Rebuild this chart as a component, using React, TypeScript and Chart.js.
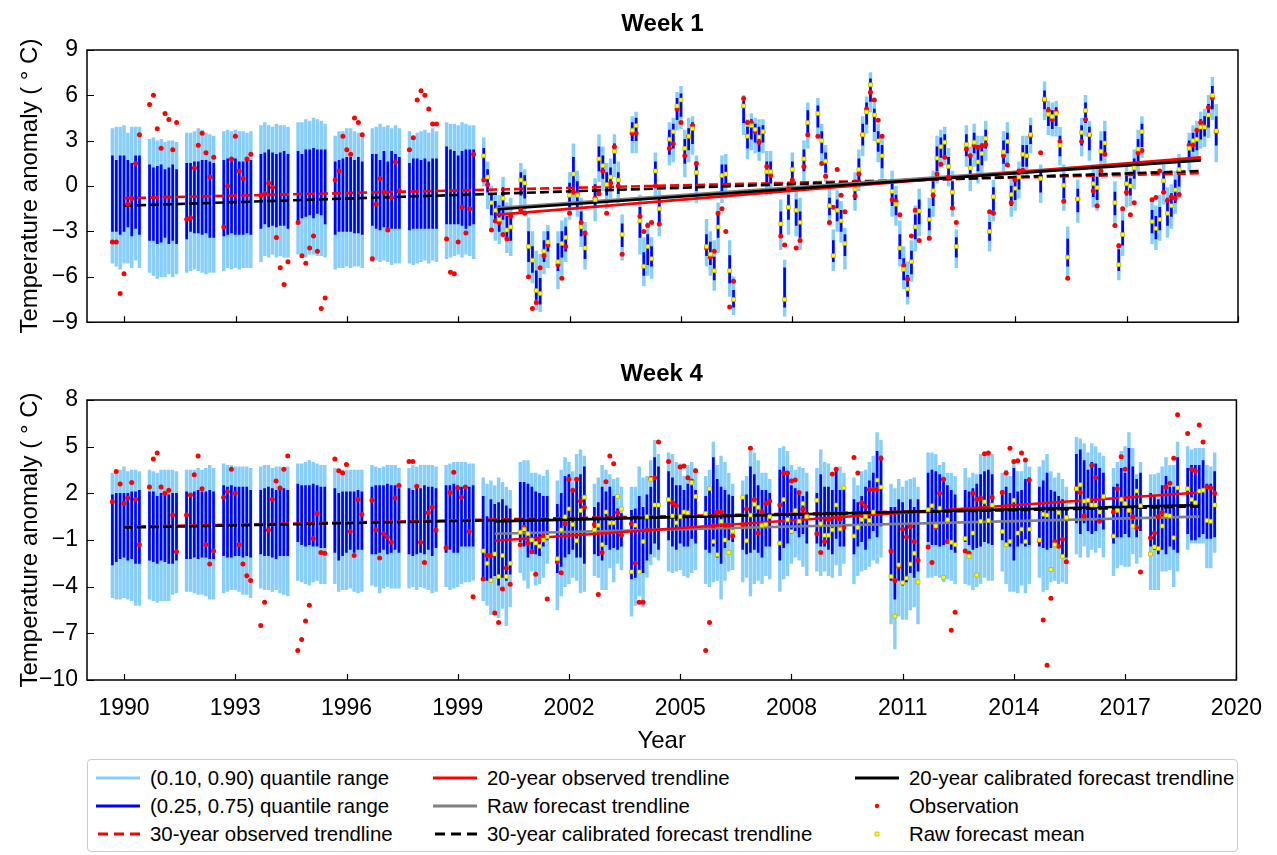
import React, { useEffect, useRef } from "react";
import { Chart, registerables } from "chart.js";

Chart.register(...registerables);

const FONT = "'Liberation Sans', Arial, Helvetica, sans-serif";

// ---------- shared axis data ----------
const clusterYears = [1990, 1991, 1992, 1993, 1994, 1995, 1996, 1997, 1998, 1999, 2000, 2001, 2002, 2003, 2004, 2005, 2006, 2007, 2008, 2009, 2010, 2011, 2012, 2013, 2014, 2015, 2016, 2017, 2018, 2019];
const slotOffsets = [-0.315, -0.211, -0.107, -0.003, 0.101, 0.205, 0.309, 0.413];
const meanStartYear = 2000;
const xTickYears = [1990, 1993, 1996, 1999, 2002, 2005, 2008, 2011, 2014, 2017, 2020];
const w1YTicks = [-9, -6, -3, 0, 3, 6, 9];
const w4YTicks = [-10, -7, -4, -1, 2, 5, 8];
const trend30Years = [1990, 2019];
const trend20Years = [2000, 2019];

// ---------- Week 1 ----------
const w1Q90 = [
  [3.8, 3.9, 3.9, 4.0, 3.5, 3.9, 3.9, 3.9], [3.1, 3.2, 3.0, 3.1, 2.9, 3.0, 3.0, 2.9], [3.5, 3.5, 3.6, 3.8, 3.7, 3.5, 3.4, 3.3],
  [3.6, 3.7, 3.6, 3.7, 3.6, 3.6, 3.5, 3.6], [4.0, 4.2, 4.0, 3.9, 4.1, 4.0, 4.0, 3.9], [4.2, 4.2, 4.4, 4.3, 4.5, 4.4, 4.3, 4.1],
  [3.3, 3.6, 3.6, 3.8, 3.8, 3.6, 3.5, 3.5], [3.8, 3.9, 4.1, 3.9, 4.0, 3.8, 4.0, 3.8], [3.6, 3.3, 3.5, 3.6, 3.7, 3.5, 3.8, 3.6],
  [4.2, 4.1, 4.1, 4.0, 4.2, 4.1, 4.0, 4.0], [3.2, 1.6, 0.0, -0.4, -0.6, 0.6, -1.1, -0.8], [1.5, 1.1, -2.1, -3.0, -4.3, -4.5, -3.0, -2.6],
  [-3.0, -2.3, -2.1, 0.9, 2.8, 1.0, -0.8, -2.4], [0.5, 3.4, 2.6, 1.5, 1.8, 3.4, 1.6, -1.9], [4.6, 4.9, -0.6, -3.4, -2.4, -3.4, 2.2, -0.3],
  [4.2, 4.5, 6.2, 6.6, 3.7, 4.5, 4.6, 2.0], [-2.2, -3.0, -3.6, -1.1, 2.0, 2.1, -3.6, -6.0], [6.0, 4.4, 4.8, 4.5, 4.4, 4.4, 2.3, 2.3],
  [-0.9, -4.9, 0.2, 2.2, -0.3, -0.8, 3.0, 5.5], [5.8, 4.1, 2.7, -0.2, -2.9, -0.3, -1.0, -2.8], [0.9, 2.4, 4.6, 5.9, 7.5, 5.5, 4.1, 3.3],
  [1.0, 0.0, -2.3, -4.0, -5.0, -3.6, -1.3, -0.2], [-0.8, 1.0, 3.3, 3.7, 3.9, 2.5, 1.0, -2.9], [4.0, 2.6, 4.1, 3.3, 3.3, 4.3, -1.7, 0.4],
  [3.6, 4.2, 0.5, 1.0, 1.6, 3.3, 3.3, 4.5], [1.4, 6.9, 5.6, 5.5, 5.6, 3.9, 1.4, -2.7], [0.4, 4.5, 6.0, 4.3, 1.4, 1.2, 3.6, 4.3],
  [0.3, -3.8, -1.6, 1.3, 1.0, 2.4, 3.7, 4.6], [-0.9, -1.3, -0.6, 1.4, -0.1, 0.1, 1.0, 2.1], [3.5, 4.0, 4.3, 4.9, 5.1, 6.0, 7.2, 5.4],
];
const w1Q75 = [
  [2.0, 1.7, 2.0, 2.0, 1.7, 1.5, 2.0, 2.0], [1.4, 1.2, 1.3, 1.4, 1.1, 1.2, 1.4, 1.1], [1.5, 1.5, 1.6, 1.6, 1.7, 1.7, 1.6, 1.5],
  [1.7, 1.8, 1.7, 1.8, 1.6, 1.6, 1.8, 1.7], [2.1, 2.2, 2.4, 2.2, 2.1, 2.2, 2.3, 2.1], [2.3, 2.1, 2.4, 2.4, 2.5, 2.4, 2.4, 2.4],
  [1.6, 1.7, 1.8, 1.9, 1.9, 1.7, 1.9, 1.6], [2.1, 2.1, 1.7, 2.3, 1.6, 2.3, 2.1, 1.9], [1.5, 1.8, 1.8, 1.7, 1.8, 1.6, 1.8, 1.8],
  [2.6, 2.4, 2.3, 2.0, 2.3, 2.4, 2.4, 2.4], [2.5, 1.1, -0.5, -1.0, -1.3, -0.1, -2.0, -1.8], [0.9, 0.7, -3.0, -4.0, -5.6, -6.1, -3.6, -3.0],
  [-3.8, -3.0, -2.7, 0.2, 1.9, 0.3, -1.7, -3.2], [0.1, 2.6, 2.0, 0.9, 1.2, 2.8, 0.9, -2.5], [4.2, 4.5, -1.4, -4.4, -3.2, -4.0, 1.6, -0.8],
  [3.7, 4.1, 5.8, 6.1, 3.1, 3.8, 4.2, 1.5], [-3.2, -3.7, -4.7, -1.9, 1.4, 1.4, -4.6, -6.9], [5.6, 3.9, 4.4, 4.1, 3.9, 4.0, 1.6, 1.6],
  [-1.7, -5.4, -0.6, 1.6, -0.9, -1.7, 2.4, 5.0], [5.3, 3.6, 2.2, -0.8, -3.6, -0.9, -1.6, -3.2], [0.4, 1.8, 4.1, 5.5, 7.1, 5.1, 3.6, 2.7],
  [0.3, -0.6, -3.2, -4.8, -5.9, -4.3, -1.9, -0.9], [-1.5, 0.3, 2.6, 3.2, 3.4, 1.9, 0.3, -3.4], [3.4, 2.0, 3.5, 2.7, 2.8, 3.7, -2.4, -0.1],
  [3.0, 3.5, 0.0, 0.4, 1.1, 2.7, 2.7, 4.0], [1.0, 6.3, 5.2, 5.0, 5.2, 3.3, 0.8, -3.5], [-0.2, 4.0, 5.5, 3.9, 0.8, 0.6, 3.0, 3.6],
  [-0.4, -4.2, -2.3, 0.7, 0.5, 1.8, 3.1, 4.1], [-1.6, -2.0, -1.4, 0.9, -0.8, -0.5, 0.4, 1.6], [3.0, 3.5, 3.7, 4.4, 4.6, 5.4, 6.6, 4.6],
];
const w1Q25 = [
  [-3.0, -3.0, -3.2, -3.0, -2.7, -3.3, -2.8, -3.2], [-3.6, -3.6, -3.8, -3.7, -3.4, -3.8, -3.6, -3.8], [-3.5, -3.0, -3.1, -3.1, -3.2, -3.1, -3.4, -3.4],
  [-3.3, -3.2, -3.1, -3.2, -3.2, -3.2, -3.1, -3.2], [-2.8, -2.5, -2.7, -2.6, -2.7, -2.6, -2.6, -2.8], [-2.3, -2.1, -2.0, -1.9, -2.1, -1.8, -1.9, -2.5],
  [-3.2, -3.0, -3.0, -3.0, -3.0, -3.1, -3.1, -3.2], [-2.6, -2.8, -2.9, -2.7, -2.8, -2.8, -2.8, -2.8], [-2.9, -2.8, -2.8, -2.8, -2.8, -2.8, -2.8, -2.8],
  [-2.5, -2.5, -2.5, -2.5, -2.6, -2.8, -2.6, -2.5], [0.5, -0.4, -1.9, -2.4, -3.0, -2.2, -3.5, -3.6], [-0.6, -0.8, -5.0, -5.7, -7.5, -7.8, -5.0, -4.3],
  [-5.6, -4.7, -4.3, -1.4, -0.3, -1.4, -3.3, -4.8], [-1.4, 1.0, 0.5, -0.6, -0.2, 1.5, -0.5, -4.0], [3.0, 3.0, -3.4, -5.9, -5.2, -5.3, -0.1, -2.5],
  [2.1, 2.5, 4.4, 4.6, 1.5, 2.4, 2.8, -0.3], [-4.6, -5.2, -6.2, -3.4, -0.3, 0.0, -6.4, -8.0], [4.2, 2.5, 3.1, 2.9, 2.3, 2.9, 0.1, 0.2],
  [-3.4, -8.0, -2.2, 0.4, -2.6, -3.4, 1.0, 3.3], [3.9, 2.2, 0.9, -1.9, -5.0, -2.3, -3.0, -4.6], [-0.9, 0.4, 2.7, 4.1, 5.6, 3.6, 2.3, 1.2],
  [-1.3, -1.9, -4.8, -6.2, -7.3, -5.8, -3.5, -2.5], [-2.9, -1.3, 1.0, 1.9, 2.0, 0.6, -1.3, -4.7], [2.0, 0.5, 2.2, 1.0, 1.4, 2.5, -3.6, -1.6],
  [1.5, 2.2, -1.3, -0.9, -0.2, 1.3, 1.3, 2.8], [-0.4, 5.1, 4.0, 3.8, 4.0, 2.0, -0.8, -5.3], [-1.7, 2.7, 4.2, 2.4, -0.7, -0.9, 1.7, 2.1],
  [-1.9, -5.6, -3.9, -0.6, -0.6, 0.5, 1.5, 2.6], [-3.1, -3.5, -2.9, -0.5, -2.6, -2.0, -1.1, 0.0], [1.7, 2.3, 2.4, 3.1, 3.3, 3.9, 5.1, 2.7],
];
const w1Q10 = [
  [-5.1, -5.3, -5.5, -5.1, -5.1, -5.4, -4.9, -5.4], [-5.7, -5.9, -6.1, -6.0, -6.0, -5.8, -6.0, -5.8], [-5.7, -5.6, -5.5, -5.6, -5.7, -5.8, -5.7, -5.7],
  [-5.6, -5.4, -5.5, -5.4, -5.5, -5.4, -5.4, -5.4], [-5.0, -4.6, -4.7, -4.5, -4.7, -4.6, -4.7, -4.7], [-4.5, -4.6, -4.7, -4.5, -4.5, -4.6, -4.6, -4.7],
  [-5.5, -5.4, -5.4, -5.3, -5.4, -5.3, -5.3, -5.4], [-5.0, -4.9, -5.0, -4.9, -5.0, -5.2, -5.1, -5.1], [-5.1, -5.2, -5.1, -5.0, -4.9, -5.1, -4.9, -5.0],
  [-4.8, -4.7, -4.6, -4.5, -4.7, -4.5, -4.6, -4.8], [0.0, -1.5, -2.9, -3.6, -3.8, -3.4, -4.4, -4.6], [-1.7, -1.8, -5.8, -6.4, -8.2, -8.3, -5.8, -5.4],
  [-6.8, -5.9, -5.0, -2.2, -1.0, -2.0, -4.0, -5.5], [-2.3, 0.3, -0.3, -1.5, -0.8, 0.6, -1.1, -4.9], [2.2, 2.2, -4.5, -6.6, -5.9, -6.1, -0.9, -3.3],
  [1.4, 1.6, 3.7, 3.8, 0.6, 1.6, 2.1, -1.1], [-5.3, -5.9, -6.9, -4.4, -1.1, -0.8, -7.3, -8.5], [3.4, 1.8, 2.4, 2.2, 1.7, 2.2, -0.6, -0.6],
  [-4.2, -8.6, -3.2, -0.3, -3.3, -4.2, 0.2, 2.5], [3.2, 1.6, 0.3, -2.6, -5.6, -3.0, -3.7, -5.5], [-1.6, -0.3, 2.0, 3.5, 4.9, 3.0, 1.6, 0.5],
  [-2.0, -2.6, -5.3, -6.8, -7.8, -6.3, -4.3, -3.3], [-3.6, -2.0, 0.2, 1.2, 1.4, 0.0, -2.0, -5.4], [1.3, -0.3, 1.3, 0.2, 0.7, 1.7, -4.3, -2.3],
  [0.8, 1.5, -2.0, -1.6, -0.8, 0.5, 0.6, 2.2], [-1.1, 4.4, 3.4, 3.3, 3.3, 1.4, -1.6, -6.0], [-2.4, 2.0, 3.3, 1.7, -1.4, -1.6, 1.0, 1.3],
  [-2.6, -6.2, -4.6, -1.4, -1.3, -0.2, 0.8, 1.9], [-3.8, -4.2, -3.6, -1.2, -3.4, -2.8, -1.8, -0.8], [1.0, 1.6, 1.7, 2.5, 2.6, 3.2, 4.4, 1.6],
];
const w1Obs = [
  [-3.7, -3.7, -7.1, -5.8, -1.2, -0.8, 1.5, 3.4], [5.4, 6.0, 3.8, 2.5, 4.8, 4.4, 2.4, 4.2], [-2.2, -2.1, 1.2, 2.7, 3.5, 2.2, 0.6, 1.9],
  [-2.7, 0.0, 1.8, 3.3, 1.0, 0.5, 1.8, 2.1], [-0.6, -0.5, 0.2, -0.1, -3.4, -5.4, -6.5, -5.0], [-2.4, -4.6, -5.1, -4.1, -3.3, -4.3, -8.1, -7.4],
  [0.4, 1.0, 3.3, 2.4, 2.1, 4.5, 4.2, 3.4], [-4.8, -1.2, 0.5, -0.4, -2.9, -0.75, 1.6, -0.3], [2.4, 3.2, 5.7, 6.3, 6.0, 5.1, 4.1, 4.1],
  [-3.5, -5.7, -5.8, -3.7, -1.4, -3.1, -1.5, 2.1], [0.4, 0.1, -2.9, -2.3, -2.4, -3.2, -3.5, -2.0], [-1.6, -1.8, -6.0, -8.1, -7.7, -5.4, -4.6, -3.9],
  [-5.2, -6.1, -4.0, -1.8, -0.4, -0.5, -2.4, -3.1], [-0.8, -0.5, 1.0, -1.8, 0.2, 2.6, 0.0, -4.5], [3.5, 3.5, -2.0, -3.0, -2.6, -2.4, 0.0, -2.5],
  [2.5, 2.8, 5.1, 4.2, 2.0, 3.3, 4.0, 1.5], [-4.1, -4.7, -4.3, -1.8, -1.5, -3.0, -8.0, -6.3], [5.8, 4.2, 4.2, 3.6, 2.9, 3.6, 1.3, 0.7],
  [-3.3, -3.9, -0.2, 0.4, -4.1, -3.6, 1.3, 3.4], [3.3, 1.5, 0.65, -2.4, -1.4, 1.1, -0.6, -1.7], [-0.65, 0.8, 3.4, 5.1, 6.2, 5.7, 4.35, 3.3],
  [-0.9, -1.0, -1.9, -5.25, -6.15, -3.3, -1.6, -3.6], [-3.45, -0.6, 0.8, 1.45, 1.9, 0.6, -1.45, -2.4], [2.45, 2.0, 2.7, 2.55, 2.65, 2.75, -1.7, -1.8],
  [2.0, 1.4, -1.1, 0.4, 1.0, 1.05, 2.0, 3.35], [2.2, 5.7, 5.0, 4.4, 4.9, 2.95, -1.0, -6.1], [-0.85, 2.95, 4.4, 3.4, -0.3, -1.3, 1.0, 2.1],
  [-2.6, -3.95, -1.5, -0.4, -1.9, -1.1, 2.2, 2.35], [-0.9, -0.75, 1.0, -0.4, -0.95, -0.7, -0.8, -0.55], [2.7, 2.7, 3.7, 4.2, 3.9, 5.2, 5.85, 3.6],
];
const w1Mean = [
  [2.0, 0.6, -1.1, -1.6, -2.2, -0.8, -2.9, -2.7], [0.4, 0.2, -4.0, -4.9, -6.9, -7.1, -4.3, -3.7], [-5.0, -3.8, -3.4, -0.6, 0.8, -0.6, -2.7, -4.1],
  [-0.9, 1.8, 1.35, 0.1, 0.6, 2.3, 0.4, -3.2], [3.7, 4.0, -2.3, -5.3, -4.0, -4.8, 1.0, -1.5], [3.1, 3.6, 5.3, 5.7, 2.5, 3.3, 3.8, 0.9],
  [-4.0, -4.5, -5.6, -2.7, 0.7, 0.8, -5.6, -7.5], [5.3, 3.3, 4.0, 3.75, 3.25, 3.6, 0.95, 0.95], [-2.5, -7.5, -1.4, 1.1, -1.6, -2.4, 1.8, 4.2],
  [4.8, 3.0, 1.65, -1.3, -4.6, -1.6, -2.3, -3.8], [-0.2, 1.1, 3.4, 4.9, 6.7, 4.7, 3.0, 2.0], [-0.35, -1.2, -4.1, -5.5, -6.8, -5.0, -2.7, -1.65],
  [-2.2, -0.3, 1.85, 2.6, 2.9, 1.3, -0.4, -4.0], [2.75, 1.2, 2.9, 1.6, 2.15, 3.15, -3.0, -0.7], [2.25, 2.95, -0.55, -0.15, 0.6, 2.1, 2.0, 3.4],
  [0.5, 5.75, 4.75, 4.6, 4.8, 2.7, 0.05, -4.7], [-0.85, 3.55, 5.0, 3.4, 0.15, -0.1, 2.3, 2.85], [-1.1, -5.2, -3.2, 0.15, 0.0, 1.2, 2.45, 3.6],
  [-2.35, -2.8, -2.2, 0.35, -1.8, -1.3, -0.25, 1.1], [2.5, 3.0, 3.1, 3.9, 3.9, 4.7, 6.0, 3.65],
];
const w1Obs30 = [-0.8, 0.85];
const w1Cal30 = [-1.3, 1.0];
const w1Obs20 = [-1.9, 1.9];
const w1Cal20 = [-1.55, 1.7];
const w1Raw20 = [-1.45, 1.8];

// ---------- Week 4 ----------
const w4Q90 = [
  [3.3, 3.4, 3.5, 3.7, 3.4, 3.5, 3.5, 3.4], [3.5, 3.4, 3.3, 3.5, 3.5, 3.5, 3.5, 3.4], [3.5, 3.5, 3.5, 3.6, 3.5, 3.6, 3.8, 3.6],
  [3.9, 3.8, 3.8, 3.7, 3.7, 3.7, 3.7, 3.6], [3.7, 3.8, 3.8, 3.6, 3.7, 3.7, 3.6, 3.7], [3.9, 3.9, 4.0, 4.1, 4.0, 3.9, 3.8, 3.8],
  [3.6, 3.5, 3.5, 3.5, 3.5, 3.5, 3.5, 3.5], [3.8, 3.7, 3.6, 3.7, 3.8, 3.8, 3.8, 3.6], [3.6, 3.8, 3.7, 3.8, 3.8, 3.8, 3.8, 3.7],
  [3.8, 3.9, 4.0, 4.0, 4.0, 4.0, 3.9, 3.9], [3.0, 2.6, 2.8, 2.5, 3.0, 2.7, 2.4, 2.2], [4.0, 4.1, 4.1, 3.3, 3.3, 3.2, 3.1, 3.5],
  [2.8, 3.5, 4.3, 4.0, 3.4, 4.5, 4.8, 4.4], [2.6, 3.0, 3.8, 3.5, 3.2, 2.9, 3.0, 2.4], [2.4, 2.4, 3.7, 3.0, 3.1, 4.1, 5.4, 4.5],
  [4.6, 4.5, 4.0, 3.9, 3.1, 3.8, 4.0, 3.6], [3.1, 3.5, 5.3, 3.8, 4.4, 4.0, 3.3, 2.6], [2.8, 3.1, 4.7, 4.6, 4.1, 3.3, 3.3, 2.9],
  [4.9, 5.0, 4.7, 3.8, 3.5, 3.7, 3.6, 3.3], [3.6, 4.8, 4.0, 3.9, 3.2, 3.5, 3.7, 3.3], [3.0, 2.5, 3.4, 3.5, 4.0, 4.4, 5.9, 5.4],
  [2.6, 2.3, 2.9, 2.4, 2.8, 2.9, 3.0, 2.4], [4.6, 4.6, 4.5, 3.8, 4.0, 3.3, 3.3, 3.1], [3.6, 3.0, 3.3, 3.2, 4.5, 4.6, 4.7, 4.5],
  [3.3, 3.5, 3.1, 4.1, 3.4, 3.4, 4.1, 3.7], [3.7, 4.1, 4.5, 3.4, 3.0, 3.3, 2.9, 2.4], [5.6, 5.5, 5.2, 4.6, 5.2, 5.0, 4.6, 4.4],
  [3.6, 4.0, 4.7, 5.0, 5.9, 4.9, 3.2, 4.0], [3.2, 3.2, 3.3, 3.7, 4.3, 3.8, 3.8, 5.3], [5.0, 4.8, 4.9, 4.9, 4.9, 3.8, 3.7, 4.6],
];
const w4Q75 = [
  [1.9, 2.0, 2.0, 2.0, 2.0, 2.1, 2.1, 2.2], [2.1, 2.1, 1.8, 2.0, 2.0, 1.9, 2.0, 2.0], [2.1, 2.0, 2.1, 2.2, 2.1, 2.1, 2.2, 2.1],
  [2.5, 2.4, 2.5, 2.4, 2.4, 2.4, 2.4, 2.2], [2.2, 2.3, 2.4, 2.3, 2.2, 2.3, 2.3, 2.2], [2.6, 2.5, 2.5, 2.5, 2.6, 2.5, 2.4, 2.4],
  [2.3, 2.0, 2.1, 2.1, 2.1, 2.1, 2.2, 2.1], [2.4, 2.5, 2.5, 2.5, 2.6, 2.5, 2.5, 2.3], [2.3, 2.2, 2.4, 2.3, 2.5, 2.4, 2.4, 2.3],
  [2.5, 2.5, 2.6, 2.5, 2.4, 2.5, 2.4, 2.5], [1.8, 0.5, 1.6, 1.3, 1.4, 1.6, 1.2, 1.0], [2.7, 2.7, 2.6, 2.4, 2.1, 2.0, 1.8, 1.8],
  [1.3, 2.0, 3.1, 3.2, 2.2, 2.9, 3.2, 3.7], [1.1, 1.4, 2.4, 2.1, 2.4, 1.8, 1.0, 0.7], [0.9, 1.0, 1.8, 1.1, 1.9, 2.4, 4.3, 3.7],
  [3.4, 3.0, 2.5, 2.5, 2.2, 2.6, 2.5, 2.2], [1.8, 2.3, 4.3, 2.9, 2.4, 2.2, 1.9, 1.8], [1.8, 1.9, 3.7, 3.2, 2.5, 2.2, 2.2, 2.0],
  [3.5, 3.7, 3.4, 2.5, 2.3, 2.0, 1.8, 2.1], [2.0, 3.2, 2.4, 2.4, 2.2, 3.5, 2.2, 2.4], [1.6, 1.4, 1.8, 2.4, 2.8, 3.3, 4.7, 4.4],
  [1.1, 1.1, 1.6, 1.4, 0.8, 1.6, 1.1, 1.6], [3.3, 3.5, 3.4, 3.2, 3.0, 2.5, 2.2, 1.9], [2.2, 2.1, 2.3, 2.6, 3.2, 3.4, 3.5, 3.2],
  [2.2, 2.4, 2.0, 3.6, 2.1, 2.2, 2.9, 3.0], [2.4, 2.8, 3.3, 2.2, 2.1, 1.8, 1.6, 1.0], [4.5, 4.8, 4.1, 3.5, 4.0, 3.9, 3.6, 3.3],
  [2.4, 2.6, 3.6, 3.3, 4.9, 3.7, 2.9, 3.3], [2.0, 1.8, 1.6, 2.5, 3.1, 2.4, 2.4, 4.3], [3.6, 3.8, 3.8, 3.8, 4.1, 2.6, 2.6, 3.4],
];
const w4Q25 = [
  [-2.6, -2.4, -2.2, -2.1, -2.3, -2.2, -2.5, -2.5], [-2.3, -2.4, -2.5, -2.3, -2.4, -2.5, -2.5, -2.3], [-2.2, -2.2, -2.1, -2.2, -2.1, -2.1, -2.2, -2.2],
  [-2.0, -2.1, -2.1, -2.0, -2.0, -2.1, -2.0, -2.1], [-1.9, -2.0, -2.0, -2.1, -2.2, -2.0, -2.0, -2.0], [-1.1, -1.3, -1.4, -1.3, -1.4, -1.4, -1.5, -1.5],
  [-1.8, -2.3, -2.0, -1.8, -1.6, -1.8, -1.6, -1.6], [-1.9, -1.9, -1.8, -1.6, -1.9, -1.8, -1.6, -1.8], [-1.9, -2.0, -1.9, -1.8, -1.9, -1.6, -2.0, -1.5],
  [-1.8, -1.6, -1.8, -1.8, -1.4, -1.4, -1.4, -1.4], [-3.4, -3.6, -3.7, -3.3, -3.9, -3.4, -3.6, -3.2], [-1.1, -1.4, -2.1, -1.6, -1.9, -2.0, -1.4, -1.0],
  [-3.1, -2.7, -2.1, -1.9, -1.6, -2.1, -2.1, -2.5], [-1.9, -2.0, -2.3, -1.3, -1.6, -1.5, -1.6, -1.4], [-3.5, -3.4, -3.0, -3.1, -2.3, -1.9, -1.2, -1.6],
  [-1.0, -1.4, -1.6, -1.2, -1.4, -1.4, -0.9, -1.2], [-1.6, -1.8, -1.4, -2.1, -2.5, -1.5, -1.0, -1.1], [-1.6, -1.9, -1.8, -1.6, -1.8, -2.1, -1.4, -1.4],
  [-2.3, -1.5, -1.2, -0.6, -0.4, -0.8, -0.6, -1.2], [-1.2, -1.4, -1.4, -1.6, -1.9, -0.9, -1.4, -1.4], [-1.9, -1.4, -1.1, -1.6, -0.9, -0.4, -0.8, -0.1],
  [-3.6, -4.8, -3.6, -3.9, -3.7, -3.1, -3.4, -3.0], [-1.1, -1.3, -1.3, -1.4, -1.3, -1.2, -1.6, -1.8], [-1.1, -1.3, -1.6, -1.5, -1.4, -1.1, -1.2, -1.3],
  [-1.0, -1.2, -1.4, -2.3, -1.4, -1.2, -1.4, -1.3], [-1.4, -1.5, -1.6, -1.5, -1.4, -1.4, -2.1, -2.1], [0.1, -0.6, 0.1, -0.4, -0.6, -0.4, 0.1, -0.3],
  [-1.2, -0.8, -0.8, -0.6, -0.8, -0.1, -0.8, -0.4], [-1.4, -1.6, -1.9, -1.6, -1.9, -1.4, -1.6, -1.8], [-0.6, -1.0, -1.0, -0.8, -0.6, -0.9, -0.9, -0.8],
];
const w4Q10 = [
  [-4.7, -4.8, -4.8, -4.7, -4.8, -4.9, -5.2, -5.2], [-4.8, -4.9, -5.0, -4.9, -4.9, -4.9, -4.5, -4.4], [-4.3, -4.3, -4.4, -4.5, -4.5, -4.6, -4.8, -4.8],
  [-4.4, -4.3, -4.2, -4.2, -4.3, -4.5, -4.5, -4.7], [-4.1, -4.2, -4.2, -4.3, -4.2, -4.4, -4.5, -4.6], [-3.6, -3.7, -3.8, -3.9, -3.7, -3.6, -3.8, -3.8],
  [-3.8, -4.3, -4.2, -4.2, -4.1, -4.3, -4.4, -4.3], [-3.9, -4.0, -4.4, -4.1, -4.0, -4.1, -4.1, -4.1], [-4.1, -4.0, -4.2, -4.0, -4.1, -4.2, -4.4, -4.3],
  [-4.0, -4.2, -4.1, -4.0, -3.8, -3.7, -3.7, -3.6], [-4.9, -5.2, -5.8, -5.6, -6.0, -5.4, -6.5, -5.3], [-3.1, -3.6, -4.1, -3.0, -3.9, -3.8, -3.4, -2.5],
  [-5.5, -4.6, -4.0, -3.8, -3.4, -3.6, -4.4, -4.3], [-3.3, -3.4, -4.2, -4.2, -2.8, -3.7, -2.5, -2.9], [-5.9, -5.2, -4.6, -5.3, -3.4, -2.6, -2.1, -2.3],
  [-3.0, -3.1, -3.0, -2.9, -3.3, -3.4, -3.1, -2.9], [-3.8, -4.0, -3.7, -3.6, -4.8, -3.6, -3.0, -2.9], [-3.7, -3.4, -4.6, -3.8, -3.6, -3.8, -3.3, -3.5],
  [-4.3, -3.5, -3.3, -2.5, -2.1, -2.3, -2.7, -3.3], [-3.0, -3.3, -3.0, -3.3, -3.4, -2.6, -3.3, -2.5], [-3.8, -3.3, -3.0, -2.9, -2.7, -2.3, -2.5, -2.1],
  [-6.4, -8.0, -5.9, -6.1, -6.1, -5.5, -5.3, -6.4], [-3.4, -3.4, -3.3, -3.4, -3.7, -3.5, -3.6, -3.8], [-3.8, -3.9, -4.2, -4.0, -3.8, -3.4, -3.6, -3.6],
  [-3.0, -3.8, -4.3, -4.3, -4.4, -3.9, -4.4, -3.8], [-3.4, -4.3, -4.2, -3.7, -3.6, -3.8, -3.7, -3.8], [-1.9, -2.1, -1.4, -2.1, -1.6, -1.8, -1.5, -2.1],
  [-3.3, -2.8, -2.6, -2.7, -2.7, -1.9, -2.5, -2.1], [-4.2, -4.2, -4.2, -3.0, -3.0, -2.9, -4.0, -3.0], [-1.6, -1.2, -1.2, -1.2, -1.2, -2.8, -2.8, -1.8],
];
const w4Obs = [
  [1.46, 3.4, 2.6, 1.35, 1.7, 2.7, 1.6, -1.3], [2.4, 4.2, 4.6, 2.4, 2.0, 2.2, 0.6, -1.75], [0.6, 1.9, 3.2, 4.4, 2.3, -1.3, -2.55, -1.7],
  [1.75, 2.1, 3.55, 2.0, -1.3, -2.55, -3.3, -3.6], [-6.5, -5.0, -0.35, 1.6, 2.8, 2.35, 3.55, 4.4], [-8.1, -7.4, -6.2, -5.2, -0.9, 0.7, -1.8, -1.85],
  [4.2, 3.45, 3.3, 3.85, -0.45, -2.0, 1.6, 0.65], [1.55, -0.35, -2.15, -0.6, -0.8, -1.15, 1.7, 2.5], [4.05, 4.05, 2.45, -1.15, -2.45, 0.75, 1.1, -0.35],
  [-1.5, 2.05, 3.35, 2.35, 1.75, 2.4, -0.45, -4.65], [-3.5, -2.0, -2.0, -5.7, -6.3, -4.15, -2.8, -3.85], [-1.3, -0.2, -1.2, -1.75, -3.2, -1.0, -0.75, -4.8],
  [-2.4, -3.1, 0.05, 2.9, 2.2, 2.9, 1.5, 1.1], [0.0, -4.5, -1.8, 2.75, 4.4, 3.9, 0.75, -0.7], [0.05, -2.5, -5.0, -5.0, -0.35, 2.95, 3.0, 5.3],
  [4.05, 1.4, 1.2, 3.7, 3.75, 3.0, 2.8, 3.45], [-8.1, -6.3, -0.1, 0.8, 0.8, -0.05, -0.05, -0.75], [0.0, 1.0, 4.9, 1.6, -0.55, 0.8, 1.35, 1.5],
  [1.25, 3.3, 3.3, 2.8, 2.85, 2.05, 1.0, 0.5], [-0.6, -1.8, -1.1, 0.3, 3.25, 3.55, 0.35, -0.2], [4.3, 3.3, 1.4, 1.15, 2.25, 2.25, 2.25, 4.25],
  [-1.7, -3.6, -2.7, -0.3, -0.8, -0.15, -1.1, -2.3], [-1.45, -2.45, -0.2, 2.0, 2.9, -1.1, -6.8, -5.65], [-1.7, -1.85, 2.0, 1.6, 1.7, 4.55, 4.6, 1.75],
  [2.05, 3.3, 4.9, 4.05, 4.1, 4.6, 4.15, 2.85], [-1.05, -6.15, -9.05, -4.75, -1.1, -1.4, -0.95, -2.4], [2.3, 2.05, 0.55, 1.55, 3.8, 3.0, 0.2, 1.75],
  [0.8, 2.3, 4.35, 3.55, 0.9, 0.5, -0.2, -3.05], [-0.85, -0.55, 0.5, 0.75, 2.4, 2.65, 4.25, 7.05], [5.85, 3.55, 3.45, 6.4, 5.3, 2.4, 2.35, 2.0],
];
const w4Mean = [
  [-1.7, -2.5, -3.6, -1.9, -3.35, -2.0, -3.35, -2.5], [-0.5, -0.3, -0.6, -1.0, -1.2, -1.4, -1.0, -0.8], [-2.2, -0.35, 0.5, 1.0, 0.0, -1.05, 0.9, 1.75],
  [-0.35, -0.05, -1.3, 0.8, 0.1, 0.1, 1.8, 1.0], [-3.05, -0.05, -3.05, -1.1, 0.5, 2.9, 1.25, 1.25], [1.6, 0.55, 0.1, 0.5, 0.8, 0.75, 2.7, 1.8],
  [0.7, 2.3, -1.1, -1.95, 0.2, -1.0, -1.8, -0.45], [1.75, -1.05, 0.6, 1.3, 1.1, -0.05, 0.0, 0.5], [-1.2, 1.6, 0.3, -0.45, 0.9, 0.2, 1.35, 0.5],
  [1.55, 0.05, -0.7, -0.7, -0.35, 1.25, -0.3, 2.35], [-0.75, -0.2, 0.3, 0.5, 0.25, 0.8, 2.85, 2.4], [-3.35, -5.9, -2.6, -3.75, -3.45, -2.55, -1.85, -3.7],
  [0.95, 1.2, -0.1, 1.05, -3.4, 0.3, -1.15, -1.3], [-0.9, -2.05, -0.55, -3.25, 0.2, 1.45, 0.25, 1.25], [-0.45, -1.3, -1.1, 1.55, -0.55, -0.3, -1.1, -0.3],
  [-1.0, 0.65, 0.6, -2.9, -1.3, 0.75, -2.05, 0.45], [2.3, 2.55, 1.5, 1.55, 1.25, 1.25, 0.8, 1.8], [-0.75, 0.9, 1.6, 1.35, 0.9, -0.1, 2.15, 1.2],
  [-1.9, -1.45, -1.55, -0.1, 0.6, 0.55, -0.85, 2.35], [2.3, 1.6, 1.4, 2.15, 2.2, 0.25, 0.2, 1.25],
];
const w4Obs30 = [-0.15, 1.2];
const w4Cal30 = [-0.2, 1.15];
const w4Obs20 = [-1.05, 2.05];
const w4Cal20 = [0.2, 1.25];
const w4Raw20 = [-0.6, 0.5];

// ---------- colours ----------
const C_LIGHT = "#87cefa";
const C_DARK = "#0000ff";
const C_RED = "#ff0000";
const C_GRAY = "#808080";
const C_BLACK = "#000000";
const C_YELLOW = "#ffff00";

type Panel = {
  title: string;
  q10: number[][]; q25: number[][]; q75: number[][]; q90: number[][];
  obs: number[][]; mean: number[][];
  obs30: number[]; cal30: number[]; obs20: number[]; cal20: number[]; raw20: number[];
  yMin: number; yMax: number; yTicks: number[];
};

const week1: Panel = {
  title: "Week 1", q10: w1Q10, q25: w1Q25, q75: w1Q75, q90: w1Q90, obs: w1Obs, mean: w1Mean,
  obs30: w1Obs30, cal30: w1Cal30, obs20: w1Obs20, cal20: w1Cal20, raw20: w1Raw20,
  yMin: -9, yMax: 9, yTicks: w1YTicks,
};
const week4: Panel = {
  title: "Week 4", q10: w4Q10, q25: w4Q25, q75: w4Q75, q90: w4Q90, obs: w4Obs, mean: w4Mean,
  obs30: w4Obs30, cal30: w4Cal30, obs20: w4Obs20, cal20: w4Cal20, raw20: w4Raw20,
  yMin: -10, yMax: 8, yTicks: w4YTicks,
};

const fmtNum = (v: number) => (v < 0 ? "\u2212" + Math.abs(v) : String(v));

const framePlugin = {
  id: "frame",
  afterDatasetsDraw(chart: any, _args: any, opts: any) {
    const { ctx, chartArea, scales } = chart;
    const { left, top, right, bottom } = chartArea;
    ctx.save();
    ctx.strokeStyle = "#000";
    ctx.lineWidth = 1.5;
    ctx.strokeRect(left, top, right - left, bottom - top);
    ctx.lineWidth = 1.2;
    ctx.beginPath();
    for (const v of xTickYears) {
      const px = Math.round(scales.x.getPixelForValue(v)) + 0.5;
      ctx.moveTo(px, bottom);
      ctx.lineTo(px, bottom - 6);
    }
    for (const v of opts.yTicks as number[]) {
      const py = Math.round(scales.y.getPixelForValue(v)) + 0.5;
      ctx.moveTo(left, py);
      ctx.lineTo(left + 7, py);
    }
    ctx.stroke();
    // panel title centred over the plotting area
    ctx.fillStyle = "#000";
    ctx.font = `bold 24px ${FONT}`;
    ctx.textAlign = "center";
    ctx.textBaseline = "middle";
    ctx.fillText(opts.title, (left + right) / 2, top - 26);
    ctx.restore();
  },
};

function buildConfig(p: Panel, showX: boolean, padTop: number, xHeight: number): any {
  const light: any[] = [];
  const dark: any[] = [];
  const obsPts: any[] = [];
  const meanPts: any[] = [];
  clusterYears.forEach((yr, ci) => {
    slotOffsets.forEach((off, k) => {
      const x = yr + off;
      light.push({ x, y: [p.q10[ci][k], p.q90[ci][k]] });
      dark.push({ x, y: [p.q25[ci][k], p.q75[ci][k]] });
      obsPts.push({ x, y: p.obs[ci][k] });
      if (yr >= meanStartYear) meanPts.push({ x, y: p.mean[ci - (meanStartYear - clusterYears[0])][k] });
    });
  });
  const line = (years: number[], vals: number[], color: string, dash: number[], order: number) => ({
    type: "line",
    data: years.map((y, i) => ({ x: y, y: vals[i] })),
    borderColor: color,
    borderWidth: 2.6,
    borderDash: dash,
    pointRadius: 0,
    fill: false,
    order,
  });
  return {
    type: "bar",
    data: {
      datasets: [
        { type: "bar", data: light, backgroundColor: C_LIGHT, barThickness: 2.8, grouped: false, order: 20 },
        { type: "bar", data: dark, backgroundColor: C_DARK, barThickness: 2.0, grouped: false, order: 19 },
        line(trend30Years, p.obs30, C_RED, [9, 4], 8),
        line(trend30Years, p.cal30, C_BLACK, [9, 4], 7),
        line(trend20Years, p.raw20, C_GRAY, [], 6),
        line(trend20Years, p.obs20, C_RED, [], 5),
        line(trend20Years, p.cal20, C_BLACK, [], 4),
        { type: "scatter", data: obsPts, backgroundColor: C_RED, borderWidth: 0, pointRadius: 2.5, order: 2 },
        { type: "scatter", data: meanPts, pointStyle: "rect", backgroundColor: C_YELLOW, borderColor: "#a8a800", borderWidth: 0.6, pointRadius: 2.8, order: 1 },
      ],
    },
    options: {
      animation: false,
      responsive: false,
      maintainAspectRatio: false,
      events: [],
      layout: { padding: { left: 0, right: 39, top: padTop, bottom: 0 } },
      plugins: {
        legend: { display: false },
        tooltip: { enabled: false },
        title: { display: false },
        frame: { yTicks: p.yTicks, title: p.title },
      },
      scales: {
        x: {
          type: "linear",
          min: 1989,
          max: 2020,
          offset: false,
          grid: { display: false, drawTicks: false },
          border: { display: false },
          ticks: {
            display: showX,
            color: "#000",
            font: { family: FONT, size: 23 },
            padding: 15,
            maxRotation: 0,
            autoSkip: false,
            callback: (v: number) => String(v),
          },
          afterBuildTicks: (ax: any) => { ax.ticks = xTickYears.map((v) => ({ value: v })); },
          afterFit: (ax: any) => { ax.height = xHeight; },
          title: {
            display: showX,
            text: "Year",
            color: "#000",
            font: { family: FONT, size: 24 },
            padding: { top: 0, bottom: 4.5 },
          },
        },
        y: {
          type: "linear",
          min: p.yMin,
          max: p.yMax,
          beginAtZero: false,
          grid: { display: false, drawTicks: false },
          border: { display: false },
          ticks: {
            color: "#000",
            font: { family: FONT, size: 23 },
            padding: 9,
            autoSkip: false,
            callback: (v: number) => fmtNum(v),
          },
          afterBuildTicks: (ax: any) => { ax.ticks = p.yTicks.map((v) => ({ value: v })); },
          afterFit: (ax: any) => { ax.width = 87; },
          title: {
            display: true,
            text: "Temperature anomaly ( \u00b0 C)",
            color: "#000",
            font: { family: FONT, size: 24 },
            padding: { top: 16, bottom: 0 },
          },
        },
      },
    },
    plugins: [framePlugin],
  };
}

function PanelCanvas(props: { panel: Panel; showX: boolean; top: number; height: number; padTop: number; xHeight: number }) {
  const ref = useRef<HTMLCanvasElement | null>(null);
  useEffect(() => {
    if (!ref.current) return;
    const chart = new Chart(ref.current, buildConfig(props.panel, props.showX, props.padTop, props.xHeight));
    return () => chart.destroy();
  }, []);
  return (
    <canvas
      ref={ref}
      width={1277}
      height={props.height}
      style={{ position: "absolute", left: 0, top: props.top, width: 1277, height: props.height }}
    />
  );
}

type LegendItem = { col: number; row: number; kind: "line" | "dash" | "dot" | "square"; color: string; text: string };
const legendItems: LegendItem[] = [
  { col: 0, row: 0, kind: "line", color: C_LIGHT, text: "(0.10, 0.90) quantile range" },
  { col: 0, row: 1, kind: "line", color: C_DARK, text: "(0.25, 0.75) quantile range" },
  { col: 0, row: 2, kind: "dash", color: C_RED, text: "30-year observed trendline" },
  { col: 1, row: 0, kind: "line", color: C_RED, text: "20-year observed trendline" },
  { col: 1, row: 1, kind: "line", color: C_GRAY, text: "Raw forecast trendline" },
  { col: 1, row: 2, kind: "dash", color: C_BLACK, text: "30-year calibrated forecast trendline" },
  { col: 2, row: 0, kind: "line", color: C_BLACK, text: "20-year calibrated forecast trendline" },
  { col: 2, row: 1, kind: "dot", color: C_RED, text: "Observation" },
  { col: 2, row: 2, kind: "square", color: C_YELLOW, text: "Raw forecast mean" },
];
const legendColX = [7, 344, 766];
const legendRowY = [18, 46, 74];

function Glyph({ kind, color }: { kind: string; color: string }) {
  return (
    <svg width={46} height={12} style={{ position: "absolute", left: 0, top: -6 }}>
      {kind === "line" && <line x1={1} y1={6} x2={45} y2={6} stroke={color} strokeWidth={3} />}
      {kind === "dash" && <line x1={3} y1={6} x2={45} y2={6} stroke={color} strokeWidth={3} strokeDasharray="10,6" />}
      {kind === "dot" && <circle cx={23} cy={6} r={2.2} fill={color} />}
      {kind === "square" && <rect x={21} y={4} width={4} height={4} fill={color} stroke="#a8a800" strokeWidth={0.6} />}
    </svg>
  );
}

export default function App() {
  return (
    <div style={{ position: "fixed", left: 0, top: 0, width: 1277, height: 855, background: "#fff", fontFamily: FONT, overflow: "hidden" }}>
      <PanelCanvas panel={week1} showX={false} top={0} height={345} padTop={50} xHeight={15} />
      <PanelCanvas panel={week4} showX={true} top={345} height={415} padTop={55} xHeight={80} />
      <div
        style={{
          position: "absolute", left: 87, top: 759, width: 1151, height: 93,
          border: "1px solid #cccccc", borderRadius: 4, boxSizing: "border-box", background: "#fff",
        }}
      >
        {legendItems.map((it, i) => (
          <div key={i} style={{ position: "absolute", left: legendColX[it.col], top: legendRowY[it.row], height: 0 }}>
            <Glyph kind={it.kind} color={it.color} />
            <span
              style={{
                position: "absolute", left: 55, top: -12, whiteSpace: "nowrap",
                fontSize: 20.4, lineHeight: "24px", color: "#000",
              }}
            >
              {it.text}
            </span>
          </div>
        ))}
      </div>
    </div>
  );
}
